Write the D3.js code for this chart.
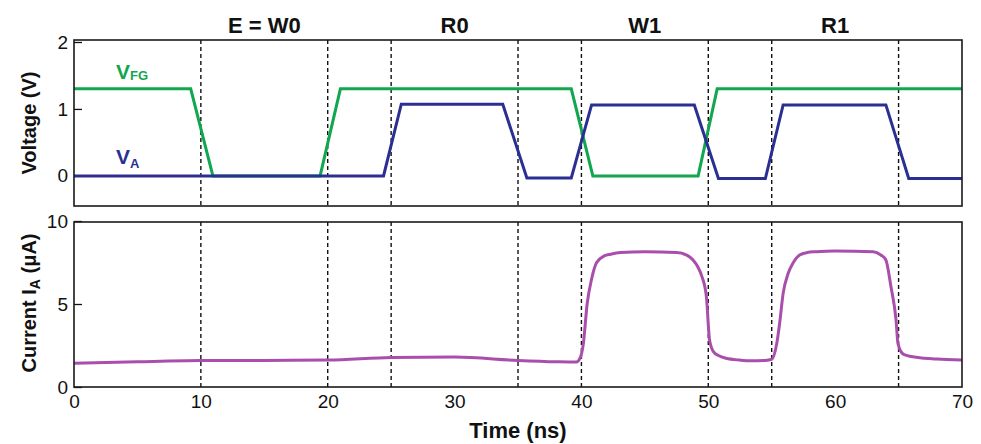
<!DOCTYPE html>
<html>
<head>
<meta charset="utf-8">
<script src="https://cdn.jsdelivr.net/npm/d3@7"></script>
<style>
  html, body { margin: 0; padding: 0; background: #fff; }
  svg { display: block; font-family: Arial, "Liberation Sans", Helvetica, sans-serif; }
</style>
</head>
<body>
<svg id="chart" width="981" height="444"></svg>
<script>
// ---------- data ----------
const phaseLabels = ["E = W0", "R0", "W1", "R1"];
const phaseCenters = [15, 30, 45, 60];
const dividers = [10, 20, 25, 35, 40, 50, 55, 65];

const timeTicks = [0, 10, 20, 30, 40, 50, 60, 70];
const voltTicks = [0, 1, 2];
const currTicks = [0, 5, 10];

const vfgT = [0, 9.2, 10.95, 19.4, 21.0, 39.2, 40.9, 49.2, 50.7, 70];
const vfgV = [1.3, 1.3, 0, 0, 1.3, 1.3, 0, 0, 1.3, 1.3];

const vaT = [0, 24.4, 25.8, 33.8, 35.7, 39.2, 40.8, 48.9, 50.8, 54.5, 55.9, 64.0, 65.8, 70];
const vaV = [0, 0, 1.07, 1.07, -0.03, -0.03, 1.06, 1.06, -0.04, -0.04, 1.06, 1.06, -0.04, -0.04];

const iaT = [0, 5, 10, 15, 20, 25, 30, 35, 38, 39.6, 39.9, 40.15, 40.45, 40.8, 41.2, 41.8, 42.3, 43.1, 45, 47.5,
             48.3, 48.8, 49.2, 49.5, 49.85, 50.1, 50.4, 50.8, 51.4, 52.5, 53.3, 54.5, 55.0, 55.4, 55.65, 55.9,
             56.3, 56.7, 57.2, 57.8, 58.5, 60, 63.0, 63.6, 64.0, 64.4, 64.8, 64.95, 65.35, 65.8, 66.4, 68, 70];
const iaV = [1.43, 1.52, 1.59, 1.6, 1.62, 1.77, 1.8, 1.6, 1.52, 1.5, 1.75, 2.6, 5.0, 6.5, 7.5, 7.9, 8.0, 8.1, 8.15, 8.1,
             7.95, 7.65, 7.2, 6.65, 5.44, 2.83, 2.13, 1.9, 1.73, 1.62, 1.58, 1.6, 1.67, 2.63, 4.0, 5.64,
             6.85, 7.5, 7.95, 8.1, 8.15, 8.2, 8.15, 7.95, 7.65, 6.04, 4.04, 2.63, 1.99, 1.87, 1.79, 1.68, 1.63];

// ---------- styles ----------
const GREEN = "#12a64f";
const BLUE = "#2b2f92";
const PURPLE = "#a94fab";

const svg = d3.select("#chart");

const x = d3.scaleLinear().domain([0, 70]).range([74, 962]);
const yV = d3.scaleLinear().domain([-0.45, 2]).range([206, 42]);
const yI = d3.scaleLinear().domain([0, 10]).range([387, 221]);

function panel(yScale, ticks, top, bottom) {
  const g = svg.append("g");
  g.selectAll("line.div").data(dividers).join("line")
    .attr("x1", d => x(d)).attr("x2", d => x(d))
    .attr("y1", top).attr("y2", bottom)
    .attr("stroke", "#111").attr("stroke-width", 1.4)
    .attr("stroke-dasharray", "4,3");
  const ax = g.append("g").attr("transform", `translate(${x(0)},0)`)
    .call(d3.axisLeft(yScale).tickValues(ticks).tickFormat(d3.format("d"))
      .tickSizeInner(-8).tickSizeOuter(0).tickPadding(6));
  ax.select(".domain").remove();
  ax.selectAll(".tick line").attr("stroke", "#111").attr("stroke-width", 1.3);
  ax.selectAll(".tick text").attr("font-size", 19).attr("fill", "#111").attr("font-family", "Arial, 'Liberation Sans', sans-serif");
  return g;
}

const gTop = panel(yV, voltTicks, 40, 206);
const gBot = panel(yI, currTicks, 222, 387);

const pts = (T, V) => T.map((t, i) => [t, V[i]]);
const lineV = d3.line().x(d => x(d[0])).y(d => yV(d[1]));
const lineI = d3.line().x(d => x(d[0])).y(d => yI(d[1])).curve(d3.curveMonotoneX);

svg.append("defs").append("clipPath").attr("id", "clipTop")
  .append("rect").attr("x", 74).attr("y", 40).attr("width", 888).attr("height", 166);

gTop.append("path").datum(pts(vfgT, vfgV)).attr("d", lineV)
  .attr("fill", "none").attr("stroke", GREEN).attr("stroke-width", 3).attr("stroke-linejoin", "miter")
  .attr("clip-path", "url(#clipTop)");
gTop.append("path").datum(pts(vaT, vaV)).attr("d", lineV)
  .attr("fill", "none").attr("stroke", BLUE).attr("stroke-width", 3).attr("stroke-linejoin", "miter")
  .attr("clip-path", "url(#clipTop)");

gBot.append("path").datum(pts(iaT, iaV)).attr("d", lineI)
  .attr("fill", "none").attr("stroke", PURPLE).attr("stroke-width", 3);

[[40, 206], [222, 387]].forEach(([t, b]) => {
  svg.append("rect").attr("x", x(0)).attr("y", t).attr("width", x(70) - x(0)).attr("height", b - t)
    .attr("fill", "none").attr("stroke", "#1a1a1a").attr("stroke-width", 1.6);
});

const xa = svg.append("g").attr("transform", `translate(0,387)`)
  .call(d3.axisBottom(x).tickValues(timeTicks).tickSize(0).tickPadding(8));
xa.select(".domain").remove();
xa.selectAll(".tick text").attr("font-size", 19).attr("fill", "#111").attr("font-family", "Arial, 'Liberation Sans', sans-serif");

svg.append("text").attr("x", x(35)).attr("y", 438).attr("text-anchor", "middle")
  .attr("font-size", 22).attr("font-weight", "bold").attr("fill", "#111").text("Time (ns)");

svg.append("text").attr("transform", `translate(36,123) rotate(-90)`).attr("text-anchor", "middle")
  .attr("font-size", 20).attr("font-weight", "bold").attr("fill", "#111").text("Voltage (V)");

const cur = svg.append("text").attr("transform", `translate(36,303) rotate(-90)`).attr("text-anchor", "middle")
  .attr("font-size", 20).attr("font-weight", "bold").attr("fill", "#111");
cur.append("tspan").text("Current I");
cur.append("tspan").attr("font-size", 14).attr("dy", 4).text("A");
cur.append("tspan").attr("dy", -4).text(" (μA)");

svg.selectAll("text.phase").data(phaseLabels).join("text")
  .attr("class", "phase")
  .attr("x", (d, i) => x(phaseCenters[i])).attr("y", 33)
  .attr("text-anchor", "middle").attr("font-size", 22).attr("font-weight", "bold").attr("fill", "#111")
  .text(d => d);

const lf = svg.append("text").attr("x", 116).attr("y", 79).attr("font-weight", "bold").attr("fill", GREEN).attr("font-size", 21);
lf.append("tspan").text("V");
lf.append("tspan").attr("font-size", 13).attr("dy", 1).text("FG");

const la = svg.append("text").attr("x", 116).attr("y", 164).attr("font-weight", "bold").attr("fill", BLUE).attr("font-size", 21);
la.append("tspan").text("V");
la.append("tspan").attr("font-size", 13).attr("dy", 4).text("A");
</script>
</body>
</html>
